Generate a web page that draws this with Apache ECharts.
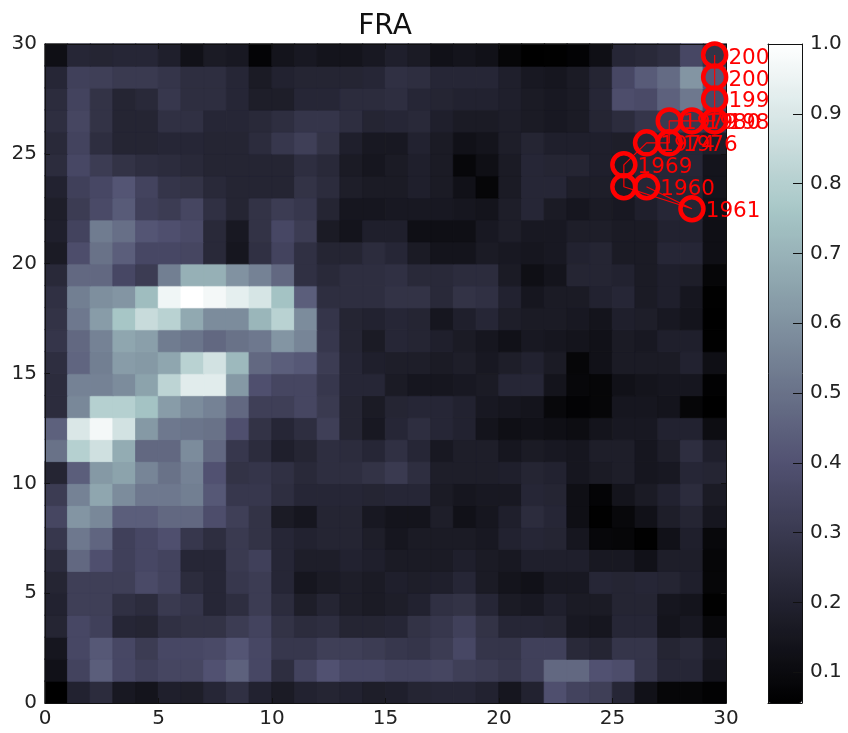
<!DOCTYPE html>
<html>
<head>
<meta charset="utf-8">
<style>html,body{margin:0;padding:0;background:#fff}#c{width:848px;height:733px}</style>
<script src="https://cdn.jsdelivr.net/npm/echarts@6/dist/echarts.min.js"></script>
</head>
<body>
<div id="c"></div>
<script>
const chartTitle = "FRA";
const colorTicks = [0.1, 0.2, 0.3, 0.4, 0.5, 0.6, 0.7, 0.8, 0.9, 1.0];
const colorMin = 0.056, colorMax = 1.0;

const row29 = [.12,.22,.21,.22,.22,.19,.13,.17,.16,.075,.14,.16,.14,.14,.16,.19,.17,.13,.14,.13,.08,.056,.06,.07,.12,.22,.23,.25,.36,.27];
const row28 = [.22,.33,.32,.30,.30,.28,.25,.25,.22,.17,.20,.21,.21,.21,.22,.26,.25,.22,.22,.22,.19,.16,.15,.17,.21,.36,.43,.48,.61,.42];
const row27 = [.24,.34,.27,.21,.23,.29,.25,.25,.22,.18,.18,.22,.22,.24,.24,.25,.22,.21,.20,.20,.19,.17,.16,.17,.22,.38,.37,.45,.52,.37];
const row26 = [.25,.35,.27,.21,.21,.26,.26,.22,.22,.23,.25,.28,.28,.25,.21,.22,.23,.19,.17,.17,.18,.17,.16,.17,.21,.24,.28,.30,.30,.28];
const row25 = [.23,.34,.25,.21,.21,.22,.22,.21,.21,.24,.29,.32,.27,.19,.16,.16,.20,.17,.13,.14,.18,.21,.19,.19,.19,.18,.22,.22,.22,.18];
const row24 = [.24,.36,.31,.27,.25,.24,.23,.21,.21,.21,.21,.25,.23,.17,.15,.17,.19,.17,.085,.12,.17,.22,.21,.21,.19,.17,.22,.22,.22,.14];
const row23 = [.20,.33,.36,.41,.34,.28,.27,.23,.21,.21,.21,.27,.24,.18,.17,.17,.19,.17,.13,.08,.17,.22,.22,.18,.18,.17,.22,.22,.21,.14];
const row22 = [.18,.31,.37,.43,.33,.31,.35,.26,.21,.27,.31,.29,.21,.15,.15,.16,.16,.16,.15,.14,.18,.22,.17,.15,.17,.16,.19,.22,.21,.13];
const row21 = [.19,.34,.53,.49,.41,.39,.37,.23,.16,.27,.36,.31,.17,.14,.19,.19,.12,.12,.12,.16,.18,.16,.16,.18,.18,.17,.17,.20,.20,.12];
const row20 = [.17,.38,.50,.44,.36,.36,.35,.23,.15,.26,.34,.26,.21,.21,.24,.22,.17,.14,.14,.17,.16,.15,.16,.20,.21,.17,.17,.22,.22,.12];
const row19 = [.23,.47,.47,.36,.31,.54,.69,.69,.60,.55,.47,.26,.23,.25,.25,.26,.23,.23,.24,.24,.17,.12,.14,.21,.21,.20,.17,.19,.18,.08];
const row18 = [.26,.54,.59,.61,.73,.96,1.0,.97,.93,.89,.75,.44,.25,.25,.25,.27,.27,.23,.27,.26,.20,.15,.17,.17,.20,.22,.17,.19,.15,.06];
const row17 = [.27,.52,.63,.76,.85,.81,.67,.58,.58,.71,.81,.58,.28,.21,.20,.22,.21,.15,.19,.22,.18,.17,.17,.16,.14,.19,.18,.16,.14,.056];
const row16 = [.28,.47,.55,.66,.64,.53,.51,.47,.50,.52,.61,.56,.29,.21,.17,.22,.21,.19,.17,.15,.13,.16,.15,.14,.13,.17,.16,.19,.19,.06];
const row15 = [.25,.46,.54,.63,.62,.66,.81,.88,.72,.47,.44,.42,.31,.22,.19,.18,.18,.17,.18,.16,.18,.20,.17,.08,.13,.17,.17,.17,.20,.12];
const row14 = [.24,.55,.55,.58,.65,.82,.92,.92,.62,.39,.35,.35,.29,.22,.22,.17,.15,.15,.16,.17,.22,.22,.14,.085,.08,.13,.14,.15,.15,.065];
const row13 = [.24,.57,.80,.80,.75,.63,.58,.55,.47,.32,.32,.35,.30,.21,.17,.21,.22,.22,.20,.16,.15,.14,.09,.07,.08,.15,.15,.14,.08,.056];
const row12 = [.45,.90,.97,.88,.62,.52,.51,.50,.39,.27,.22,.25,.32,.21,.16,.22,.25,.22,.20,.14,.12,.13,.12,.11,.14,.16,.16,.20,.20,.11];
const row11 = [.50,.80,.87,.68,.47,.47,.58,.47,.29,.24,.19,.21,.25,.24,.22,.26,.22,.16,.18,.18,.15,.17,.16,.15,.18,.18,.15,.18,.25,.19];
const row10 = [.21,.44,.62,.65,.56,.50,.55,.40,.27,.28,.26,.23,.25,.25,.27,.30,.25,.18,.18,.18,.19,.21,.20,.15,.17,.18,.15,.16,.22,.21];
const row09 = [.31,.55,.66,.58,.52,.52,.54,.42,.29,.29,.25,.22,.22,.22,.21,.22,.22,.17,.15,.16,.16,.22,.21,.12,.075,.14,.17,.20,.24,.17];
const row08 = [.35,.61,.57,.44,.44,.47,.47,.38,.32,.27,.17,.15,.21,.21,.16,.14,.14,.18,.13,.15,.19,.24,.22,.12,.06,.09,.13,.18,.21,.15];
const row07 = [.29,.52,.46,.33,.36,.39,.29,.25,.30,.27,.22,.20,.21,.21,.18,.15,.17,.17,.17,.16,.20,.22,.21,.15,.085,.08,.06,.13,.19,.09];
const row06 = [.24,.47,.39,.33,.36,.34,.22,.22,.30,.33,.22,.18,.18,.20,.19,.17,.17,.17,.19,.17,.16,.19,.19,.19,.16,.16,.13,.18,.18,.08];
const row05 = [.21,.32,.32,.32,.37,.34,.24,.22,.29,.31,.22,.15,.17,.18,.17,.19,.18,.19,.22,.17,.14,.13,.16,.16,.22,.21,.22,.21,.19,.08];
const row04 = [.20,.32,.32,.26,.24,.30,.28,.22,.25,.31,.24,.18,.21,.18,.17,.18,.20,.26,.27,.22,.17,.16,.19,.17,.17,.21,.21,.15,.14,.06];
const row03 = [.21,.36,.33,.22,.21,.26,.27,.27,.31,.34,.27,.24,.25,.21,.21,.22,.27,.29,.33,.27,.22,.22,.21,.16,.15,.22,.22,.14,.16,.09];
const row02 = [.15,.36,.42,.36,.31,.36,.36,.37,.41,.36,.29,.29,.32,.32,.31,.29,.28,.31,.36,.28,.28,.33,.33,.23,.21,.28,.28,.21,.23,.16];
const row01 = [.13,.34,.44,.36,.33,.35,.35,.40,.45,.36,.25,.34,.40,.36,.36,.34,.34,.35,.32,.31,.29,.33,.47,.47,.40,.38,.28,.22,.22,.14];
const row00 = [.056,.20,.24,.16,.14,.19,.18,.22,.26,.20,.17,.20,.21,.20,.18,.19,.21,.22,.22,.20,.15,.20,.39,.34,.32,.22,.13,.08,.08,.065];

const cellRows = [row00,row01,row02,row03,row04,row05,row06,row07,row08,row09,row10,row11,row12,row13,row14,row15,row16,row17,row18,row19,row20,row21,row22,row23,row24,row25,row26,row27,row28,row29];

const pathX = [26.5, 28.5, 25.5, 25.5, 26.5, 27.5, 27.5, 28.5, 29.5, 29.5, 29.5, 29.5];
const pathY = [23.5, 22.5, 23.5, 24.5, 25.5, 25.5, 26.5, 26.5, 26.5, 27.5, 28.5, 29.5];
const pathLabels = ["1960", "1961", "", "1969", "1974", "1976", "1979", "1980", "1985", "1995", "2000", "2005"];

function lerp(pts, t) {
  for (let i = 1; i < pts.length; i++) {
    if (t <= pts[i][0]) {
      const a = pts[i - 1], b = pts[i];
      return a[1] + (b[1] - a[1]) * (t - a[0]) / (b[0] - a[0]);
    }
  }
  return 1;
}
function bone(t) {
  const r = lerp([[0, 0], [0.746032, 0.652778], [1, 1]], t);
  const g = lerp([[0, 0], [0.365079, 0.319444], [0.746032, 0.777778], [1, 1]], t);
  const b = lerp([[0, 0], [0.365079, 0.444444], [1, 1]], t);
  return "rgb(" + [r, g, b].map(v => Math.round(v * 255)).join(",") + ")";
}
const boneStops = [];
for (let i = 0; i <= 128; i++) boneStops.push(bone(i / 128));

const cats = cellRows.map((_, i) => String(i));
const cells = [];
cellRows.forEach((row, y) => row.forEach((v, x) => cells.push({
  value: [x, y, v],
  itemStyle: { borderWidth: 0.8, borderColor: bone((v - colorMin) / (colorMax - colorMin)) }
})));
const pathData = pathX.map((x, i) => [x, pathY[i], pathLabels[i]]);

const font = "DejaVu Sans";
const ink = "#222";
const gridBox = { left: 45, top: 44, width: 681, height: 659 };
const barBox = { left: 768, top: 44, width: 34, height: 659 };
const frameLine = { show: true, onZero: false, lineStyle: { color: "#111", width: 1 } };
const tickIn = { show: true, inside: true, length: 5, lineStyle: { color: "#111", width: 1 } };

function mainX(position, labelled) {
  return { type: "value", gridIndex: 1, position, min: 0, max: 30, interval: 5, z: 5,
    axisLine: frameLine, axisTick: tickIn, splitLine: { show: false },
    axisLabel: { show: labelled, color: ink, fontFamily: font, fontSize: 20, margin: 6, hideOverlap: false, showMinLabel: true, showMaxLabel: true } };
}
function mainY(position, labelled) {
  return { type: "value", gridIndex: 1, position, min: 0, max: 30, interval: 5, z: 5,
    axisLine: frameLine, axisTick: tickIn, splitLine: { show: false },
    axisLabel: { show: labelled, color: ink, fontFamily: font, fontSize: 20, margin: 8, hideOverlap: false, showMinLabel: true, showMaxLabel: true } };
}

const chart = echarts.init(document.getElementById("c"), null, { renderer: "canvas" });
chart.setOption({
  animation: false,
  backgroundColor: "#fff",
  title: { text: chartTitle, left: 380, top: 8, textAlign: "center",
    textStyle: { fontFamily: font, fontSize: 28, fontWeight: "normal", color: "#111" } },
  grid: [
    Object.assign({}, gridBox),
    Object.assign({}, gridBox),
    Object.assign({}, barBox)
  ],
  xAxis: [
    { type: "category", gridIndex: 0, data: cats, show: false },
    mainX("bottom", true),
    mainX("top", false),
    { type: "value", gridIndex: 2, position: "bottom", min: 0, max: 1, z: 10, axisLine: frameLine, axisTick: { show: false }, axisLabel: { show: false }, splitLine: { show: false } },
    { type: "value", gridIndex: 2, position: "top", min: 0, max: 1, z: 10, axisLine: frameLine, axisTick: { show: false }, axisLabel: { show: false }, splitLine: { show: false } }
  ],
  yAxis: [
    { type: "category", gridIndex: 0, data: cats, show: false },
    mainY("left", true),
    mainY("right", false),
    { type: "value", gridIndex: 2, position: "right", min: colorMin, max: colorMax, z: 10,
      axisLine: frameLine,
      axisTick: { show: true, inside: true, length: 9, customValues: colorTicks, lineStyle: { color: "#111", width: 1 } },
      axisLabel: { show: true, color: ink, fontFamily: font, fontSize: 20, margin: 8, customValues: colorTicks, formatter: v => v.toFixed(1), hideOverlap: false },
      splitLine: { show: false } },
    { type: "value", gridIndex: 2, position: "left", min: colorMin, max: colorMax, z: 10,
      axisLine: frameLine, axisTick: { show: false }, axisLabel: { show: false }, splitLine: { show: false } }
  ],
  visualMap: {
    type: "continuous", seriesIndex: 0, min: colorMin, max: colorMax,
    left: barBox.left, top: barBox.top, itemWidth: barBox.width, itemHeight: barBox.height,
    padding: 0, calculable: false, realtime: false, hoverLink: false, showLabel: false, text: null,
    inRange: { color: boneStops }, z: 9
  },
  series: [
    { type: "heatmap", xAxisIndex: 0, yAxisIndex: 0, data: cells, progressive: 0,
      emphasis: { disabled: true }, silent: true, z: 2 },
    { type: "line", xAxisIndex: 1, yAxisIndex: 1, data: pathData, z: 8, clip: false,
      showAllSymbol: true, symbol: "circle", symbolSize: 23, silent: true,
      lineStyle: { color: "#f00", width: 1.2 },
      itemStyle: { color: "rgba(255,0,0,0)", borderColor: "#f00", borderWidth: 4.5 },
      label: { show: true, position: "right", distance: 0, offset: [0, 3],
        color: "#f00", fontFamily: font, fontSize: 21.5,
        formatter: p => p.value[2] },
      encode: { x: 0, y: 1 } }
  ]
});
</script>
</body>
</html>
